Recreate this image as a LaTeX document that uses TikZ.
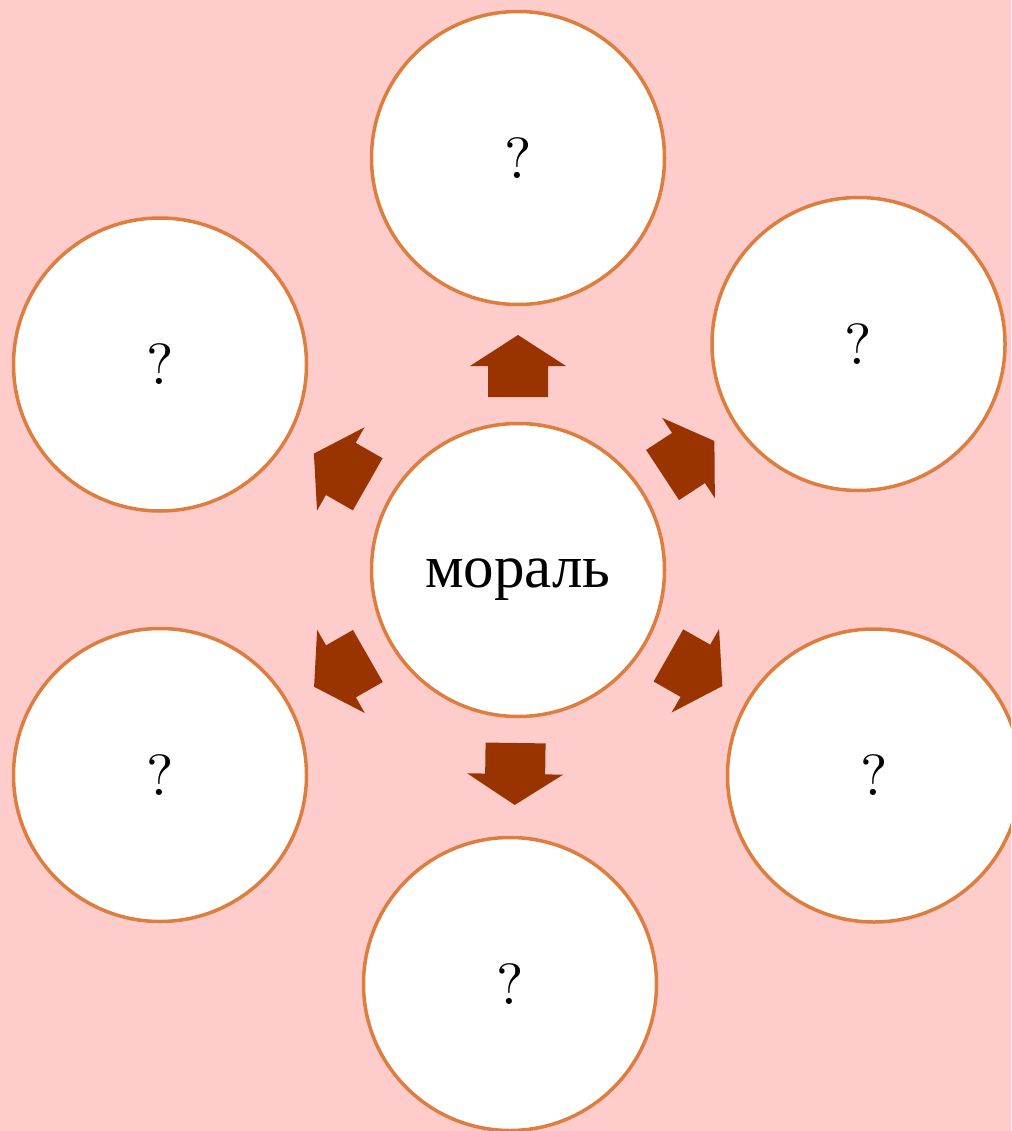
\documentclass[tikz,border=0pt]{standalone}
\usepackage{fontspec}
\newfontfamily\cyrfont{Liberation Serif}
\newfontfamily\qfont{lmroman10-regular}[Extension=.otf]
\definecolor{bgpink}{HTML}{FFCCCC}
\definecolor{ringor}{HTML}{DD7E3E}
\definecolor{arrbrown}{HTML}{993300}
\tikzset{
  bubble/.style={circle, draw=ringor, line width=3.5pt, fill=white, minimum size=293pt, inner sep=0pt,
    font=\qfont\fontsize{58}{60}\selectfont},
  arrowfill/.style={fill=arrbrown}
}
\newcommand\blockarr[2]{%
  \fill[arrowfill, shift={(#1.center)}, rotate=#2]
    (173pt,-30pt) -- (204pt,-30pt) -- (204pt,-48pt) -- (235pt,0pt)
    -- (204pt,48pt) -- (204pt,30pt) -- (173pt,30pt) -- cycle;}
\begin{document}
\begin{tikzpicture}[x=1pt,y=1pt]
\fill[bgpink] (0,0) rectangle (1011,-1131);
\useasboundingbox (0,0) rectangle (1011,-1131);
\begin{scope}
\clip (0,0) rectangle (1011,-1131);
\node[bubble] (c)  at (518,-570)   {\smash{\raisebox{-17pt}{\cyrfont\fontsize{61}{64}\selectfont мораль}}};
\node[bubble] (t)  at (518,-158)   {?};
\node[bubble] (tr) at (858.5,-344) {?};
\node[bubble] (br) at (874,-775.5) {?};
\node[bubble] (b)  at (510,-984)   {?};
\node[bubble] (bl) at (160,-775)   {?};
\node[bubble] (tl) at (160,-364.5) {?};
\end{scope}
\blockarr{c}{90}
\blockarr{c}{33.3}
\blockarr{c}{-29.6}
\blockarr{c}{-90.8}
\blockarr{c}{209.8}
\blockarr{c}{150.3}
\end{tikzpicture}
\end{document}
